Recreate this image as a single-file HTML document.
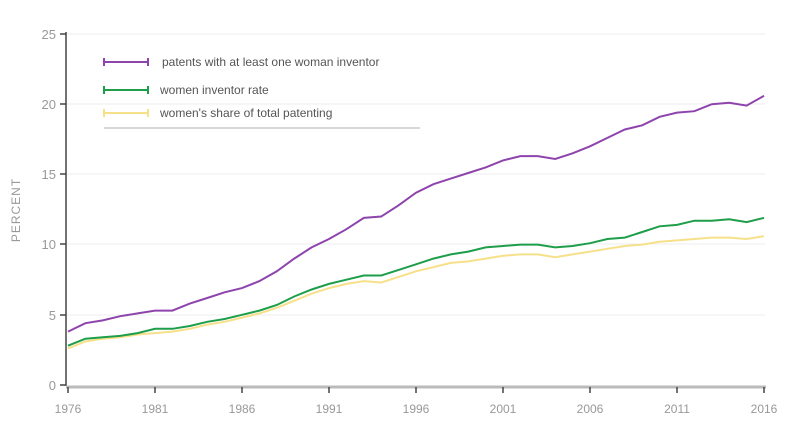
<!DOCTYPE html><html><head><style>body{margin:0;background:#fff;width:800px;height:432px;overflow:hidden}text{font-family:"Liberation Sans",sans-serif;fill:#999}</style></head><body>
<svg id="s" width="800" height="432" xmlns="http://www.w3.org/2000/svg">
<g stroke="#eee" stroke-width="1">
<line x1="66" y1="34" x2="765" y2="34"/><line x1="66" y1="104" x2="765" y2="104"/><line x1="66" y1="174" x2="765" y2="174"/><line x1="66" y1="244" x2="765" y2="244"/><line x1="66" y1="315" x2="765" y2="315"/></g>
<line x1="66" y1="32" x2="66" y2="386" stroke="#444" stroke-width="1.5"/>
<line x1="66" y1="387" x2="766" y2="387" stroke="#bbb" stroke-width="3"/>
<g stroke="#444" stroke-width="1.5"><line x1="60" y1="34" x2="66" y2="34"/><line x1="60" y1="104" x2="66" y2="104"/><line x1="60" y1="174" x2="66" y2="174"/><line x1="60" y1="244" x2="66" y2="244"/><line x1="60" y1="315" x2="66" y2="315"/><line x1="60" y1="385" x2="66" y2="385"/></g>
<g font-size="13" text-anchor="end"><text x="56" y="39">25</text><text x="56" y="109">20</text><text x="56" y="179">15</text><text x="56" y="249">10</text><text x="56" y="320">5</text><text x="56" y="390">0</text></g>
<text transform="translate(20,210) rotate(-90)" font-size="12" text-anchor="middle" letter-spacing="1">PERCENT</text>
<g id="xt" font-size="12" text-anchor="middle"></g>
<line x1="104" y1="128" x2="420" y2="128" stroke="#ccc" stroke-width="1.5"/>
<g stroke-width="2"><path d="M104 62H148M104 58V66M148 58V66" stroke="#8e44ad"/><path d="M104 90H148M104 86V94M148 86V94" stroke="#1e9e4a"/><path d="M104 113H148M104 109V117M148 109V117" stroke="#f7e08a"/></g>
<g font-size="12" fill="#555"><text x="162" y="66" style="fill:#555">patents with at least one woman inventor</text><text x="160" y="94" style="fill:#555">women inventor rate</text><text x="160" y="117" style="fill:#555">women's share of total patenting</text></g>
<g id="ln"></g>
</svg>
<script>
var P=[3.8,4.4,4.6,4.9,5.1,5.3,5.3,5.8,6.2,6.6,6.9,7.4,8.1,9.0,9.8,10.4,11.1,11.9,12.0,12.8,13.7,14.3,14.7,15.1,15.5,16.0,16.3,16.3,16.1,16.5,17.0,17.6,18.2,18.5,19.1,19.4,19.5,20.0,20.1,19.9,20.6];
var G=[2.8,3.3,3.4,3.5,3.7,4.0,4.0,4.2,4.5,4.7,5.0,5.3,5.7,6.3,6.8,7.2,7.5,7.8,7.8,8.2,8.6,9.0,9.3,9.5,9.8,9.9,10.0,10.0,9.8,9.9,10.1,10.4,10.5,10.9,11.3,11.4,11.7,11.7,11.8,11.6,11.9];
var Y=[2.6,3.1,3.3,3.4,3.6,3.7,3.8,4.0,4.3,4.5,4.8,5.1,5.5,6.0,6.5,6.9,7.2,7.4,7.3,7.7,8.1,8.4,8.7,8.8,9.0,9.2,9.3,9.3,9.1,9.3,9.5,9.7,9.9,10.0,10.2,10.3,10.4,10.5,10.5,10.4,10.6];
function X(i){return 68+i*17.4}function V(v){return 385-v*14.04}
var ns="http://www.w3.org/2000/svg",ln=document.getElementById('ln');
[[Y,"#f7e08a"],[G,"#1e9e4a"],[P,"#8e44ad"]].forEach(function(s){var d=s[0].map(function(v,i){return(i?"L":"M")+X(i).toFixed(1)+" "+V(v).toFixed(1)}).join("");var p=document.createElementNS(ns,"path");p.setAttribute("d",d);p.setAttribute("fill","none");p.setAttribute("stroke",s[1]);p.setAttribute("stroke-width","2");ln.appendChild(p)});
var xt=document.getElementById('xt');
for(var i=0;i<=40;i+=5){var x=X(i);var l=document.createElementNS(ns,"line");l.setAttribute("x1",x);l.setAttribute("x2",x);l.setAttribute("y1",387);l.setAttribute("y2",393);l.setAttribute("stroke","#444");l.setAttribute("stroke-width","1.5");xt.appendChild(l);var t=document.createElementNS(ns,"text");t.setAttribute("x",x);t.setAttribute("y",413);t.textContent=1976+i;xt.appendChild(t)}
</script>
</body></html>
